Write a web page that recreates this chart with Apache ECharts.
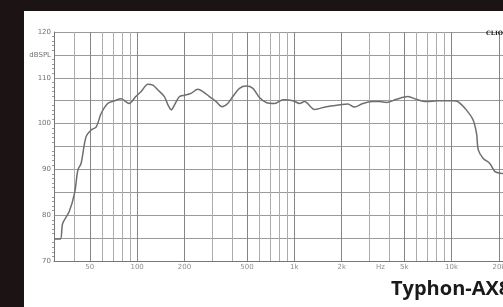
<!DOCTYPE html>
<html>
<head>
<meta charset="utf-8">
<script src="https://cdn.jsdelivr.net/npm/echarts@6/dist/echarts.min.js"></script>
<style>
  html, body { margin: 0; padding: 0; background: #fff; }
  #chart { width: 503px; height: 307px; }
</style>
</head>
<body>
<div id="chart"></div>
<script>
// frequency response (Hz / dBSPL)
const freq = [30, 32.5, 33.6, 37, 40, 42, 44, 47.3, 51, 55, 59, 65, 72, 79, 89, 98, 106, 117, 126, 135,
  149, 157, 165, 173, 186, 200, 220, 243, 262, 288, 318, 347, 377, 406, 448, 494, 545, 600, 662, 750,
  847, 980, 1080, 1160, 1345, 1595, 1940, 2190, 2410, 2730, 3130, 3480, 3850, 4460, 5280, 5960, 6900,
  8180, 10200, 10980, 12400, 13700, 14400, 14800, 15900, 17500, 18900, 21200]
const spl = [74.8, 74.8, 78.2, 80.8, 84.8, 89.9, 91.3, 97.1, 98.6, 99.3, 102.2, 104.4, 105.0, 105.4, 104.4, 105.9, 107.0, 108.6, 108.4, 107.4,
  105.9, 104.1, 103.0, 104.1, 105.9, 106.2, 106.6, 107.5, 107.0, 105.9, 104.8, 103.7, 104.4, 105.9, 107.7, 108.2, 107.7, 105.7, 104.6, 104.4,
  105.2, 105.0, 104.4, 104.8, 103.1, 103.7, 104.1, 104.3, 103.6, 104.4, 104.8, 104.8, 104.6, 105.3, 105.9, 105.3, 104.8,
  105.0, 105.0, 104.8, 103.0, 100.8, 97.9, 94.2, 92.4, 91.3, 89.5, 89.1]

// vertical grid lines
const gridFreqs = [40, 50, 60, 70, 80, 90, 100, 200, 300, 400, 500, 600, 700, 800, 900, 1000,
  2000, 3000, 4000, 5000, 6000, 7000, 8000, 9000, 10000, 20000]
const majorFreqs = [50, 100, 200, 500, 1000, 2000, 5000, 10000, 20000]

// x tick labels
const xLabelFreqs = [50, 100, 200, 500, 1000, 2000, 3530, 5000, 10000, 20000]
const xLabels = ['50', '100', '200', '500', '1k', '2k', 'Hz', '5k', '10k', '20k']

// y tick labels
const yLabels = { 120: '120', 115: 'dBSPL', 110: '110', 100: '100', 90: '90', 80: '80', 70: '70' }

const chart = echarts.init(document.getElementById('chart'))

const labelFont = { color: '#707070', fontSize: 7, fontFamily: 'DejaVu Sans' }

chart.setOption({
  backgroundColor: '#ffffff',
  animation: false,
  grid: { left: 54, right: 0, top: 32, bottom: 46, containLabel: false, outerBoundsMode: 'none' },
  xAxis: {
    type: 'log',
    logBase: 10,
    min: 29.6,
    max: 21230,
    axisLine: { show: true, lineStyle: { color: '#777', width: 1 } },
    axisTick: { show: false },
    axisLabel: { show: false },
    splitLine: { show: false },
  },
  yAxis: {
    type: 'value',
    min: 70,
    max: 120,
    interval: 5,
    axisLine: { show: true, lineStyle: { color: '#777', width: 1 } },
    axisTick: { show: false },
    minorTick: { show: true, splitNumber: 5, length: 2, lineStyle: { color: '#999' } },
    axisLabel: {
      ...labelFont,
      margin: 3,
      formatter: (v) => yLabels[v] || '',
    },
    splitLine: { show: true, lineStyle: { color: '#9a9a9a', width: 1 } },
  },
  graphic: [
    { type: 'rect', left: 0, top: 0, shape: { width: 503, height: 11 }, style: { fill: '#1c1414' }, z: 100 },
    { type: 'rect', left: 0, top: 0, shape: { width: 24, height: 307 }, style: { fill: '#1c1414' }, z: 100 },
    {
      type: 'text', left: 486, top: 30, z: 100,
      style: { text: 'CLIO', fill: '#222', font: 'bold 6px "DejaVu Serif"' },
    },
    {
      type: 'text', left: 391, top: 279, z: 100,
      style: { text: 'Typhon-AX8', fill: '#1a1a1a', font: 'bold 20px "Open Sans"' },
    },
  ],
  series: [
    {
      type: 'line',
      data: freq.map((f, i) => [f, spl[i]]),
      smooth: 0.3,
      symbol: 'none',
      lineStyle: { color: '#6e6e6e', width: 1.5 },
      z: 5,
      markLine: {
        silent: true,
        symbol: 'none',
        animation: false,
        label: { show: false },
        data: gridFreqs.map(f => ({
          xAxis: f,
          lineStyle: {
            type: 'solid',
            width: 1,
            color: majorFreqs.includes(f) ? '#858585' : '#acacac',
          },
        })),
      },
    },
    {
      type: 'scatter',
      data: xLabelFreqs.map(f => [f, 70]),
      symbolSize: 0,
      silent: true,
      label: {
        show: true,
        position: 'bottom',
        distance: 3,
        ...labelFont,
        formatter: (p) => xLabels[p.dataIndex],
      },
    },
  ],
})
</script>
</body>
</html>
